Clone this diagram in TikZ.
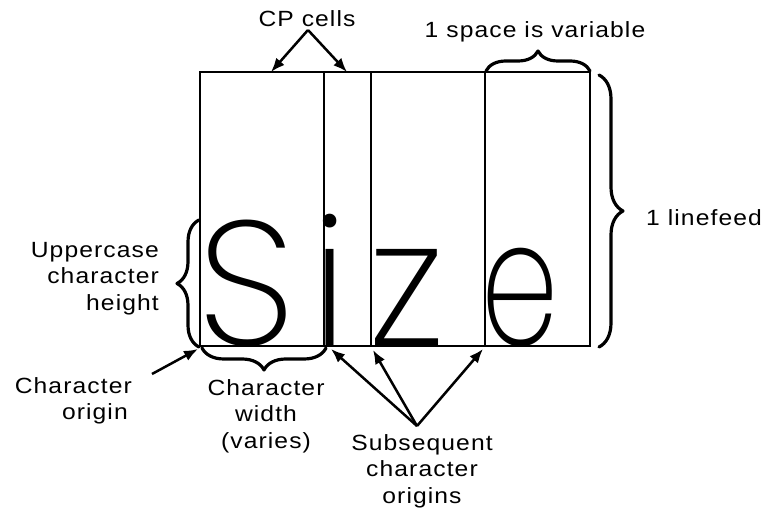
\documentclass[tikz,border=0pt]{standalone}
\usepackage{fontspec}
\setmainfont{Liberation Sans}[FakeStretch=1.12,LetterSpace=5]
\newfontfamily\glyphfont{Poppins ExtraLight}
\usetikzlibrary{arrows.meta,decorations.pathreplacing}
\begin{document}
\begin{tikzpicture}[x=1pt,y=-1pt,
  lbl/.style={font=\fontsize{22}{26.5}\selectfont, inner sep=0pt},
  glyph/.style={font=\glyphfont\fontsize{177}{177}\selectfont, inner sep=0pt, anchor=base},
  cell/.style={line width=1.3pt},
  arr/.style={line width=2.5pt, -{Latex[length=14pt,width=11pt]}},
  brc/.style={decorate, decoration={brace, amplitude=#1}, line width=3.2pt, line cap=round, line join=round}]
\useasboundingbox (0,0) rectangle (769,510);
% cell grid
\coordinate (tl) at (200,72);
\coordinate (br) at (590,346);
\draw[cell] (tl) rectangle (br);
\foreach \cx/\nm in {324/a,371/b,485/c}{
  \coordinate (t\nm) at (\cx,72);
  \coordinate (b\nm) at (\cx,346);
  \draw[cell] (t\nm) -- (b\nm);
}
% glyphs
\node[glyph] (gS) at (247,346) {S};
\node[glyph] (gi) at (330,346) {i};
\node[glyph] (gz) at (407,346) {z};
\node[glyph] (ge) at (520,346) {\scalebox{0.7}[1]{e}};
% labels
\node[lbl,anchor=base] (cp) at (307,27) {CP cells};
\node[lbl,anchor=base] (sp) at (535,38) {1 space is variable};
\node[lbl,anchor=base west] (lf) at (646,226) {1 linefeed};
\node[lbl,anchor=north east,align=right] (uc) at (159,242) {Uppercase\\character\\height};
\node[lbl,anchor=north east,align=right] (co) at (132,377) {Character\\origin\hspace*{4pt}};
\node[lbl,anchor=north,align=center] (cw) at (266,379) {Character\\width\\(varies)};
\node[lbl,anchor=north,align=center] (so) at (422,434) {Subsequent\\character\\origins};
% arrows
\coordinate (cpA) at (308,30);
\coordinate (cpL) at (271,72);
\coordinate (cpR) at (347,72);
\draw[arr] (cpA) -- (cpL);
\draw[arr] (cpA) -- (cpR);
\coordinate (coA) at (152,374);
\coordinate (coT) at (198,349);
\draw[arr] (coA) -- (coT);
\coordinate (soA) at (417,426);
\coordinate (so1T) at (331,349);
\coordinate (so2T) at (373,350);
\coordinate (so3T) at (483,349);
\draw[arr] (soA) -- (so1T);
\draw[arr] (soA) -- (so2T);
\draw[arr] (soA) -- (so3T);
% braces
\coordinate (spL) at (486,71);
\coordinate (spR) at (590,71);
\draw[brc=20pt] (spL) -- (spR);
\coordinate (lfT) at (599,75);
\coordinate (lfB) at (599,347);
\draw[brc=24pt] (lfT) -- (lfB);
\coordinate (ucB) at (199,347);
\coordinate (ucT) at (199,220);
\draw[brc=22pt] (ucB) -- (ucT);
\coordinate (cwR) at (326,348);
\coordinate (cwL) at (202,348);
\draw[brc=22pt] (cwR) -- (cwL);
\end{tikzpicture}
\end{document}
